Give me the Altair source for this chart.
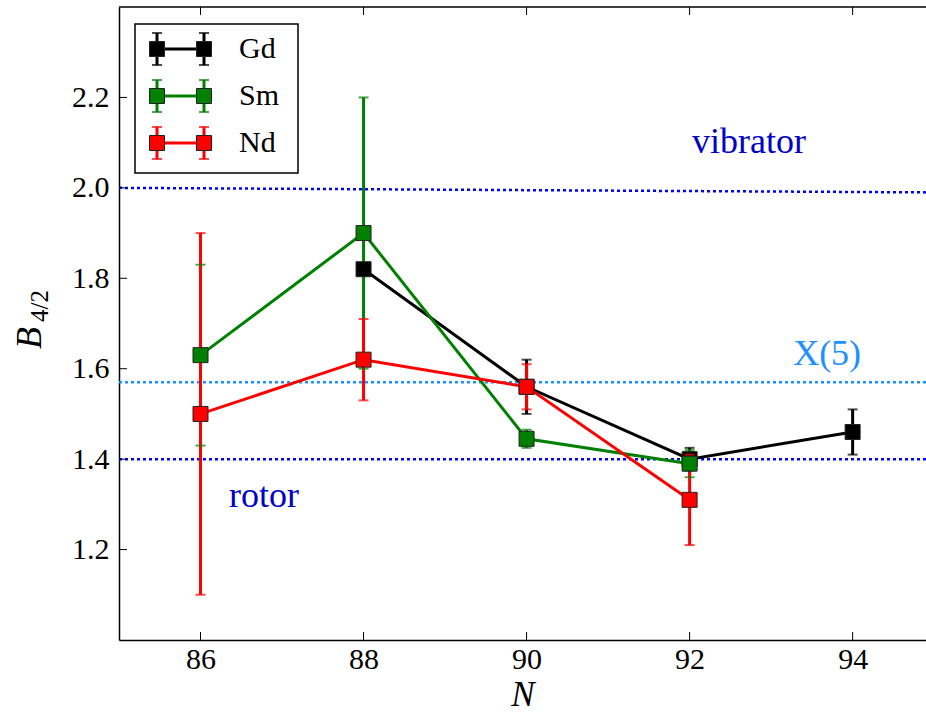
import altair as alt
import pandas as pd

# Neutron number on the x axis
N = [86, 88, 90, 92, 94]

# B(4/2) ratios and their uncertainties for each isotope chain
gd_vals = [None, 1.82, 1.56, 1.40, 1.46]
gd_err = [None, 0.0, 0.06, 0.025, 0.05]
sm_vals = [1.63, 1.90, 1.445, 1.39, None]
sm_err = [0.20, 0.30, 0.02, 0.03, None]
nd_vals = [1.50, 1.62, 1.56, 1.31, None]
nd_err = [0.40, 0.09, 0.05, 0.10, None]

series_names = ["Gd", "Sm", "Nd"]
series_colors = ["#000000", "#008000", "#ff0000"]

# Reference limits: vibrator, X(5) critical point, rotor
ref_names = ["vibrator", "X(5)", "rotor"]
ref_start = [2.00, 1.57, 1.40]
ref_end = [1.99, 1.57, 1.40]
ref_colors = ["#0000ff", "#1e90ff", "#0000ff"]

x_ticks = [86, 88, 90, 92, 94]
y_ticks = [1.2, 1.4, 1.6, 1.8, 2.0, 2.2]

W, H = 807, 633
FONT = "Liberation Serif"

rows = []
for name, vals, errs in [("Gd", gd_vals, gd_err), ("Sm", sm_vals, sm_err), ("Nd", nd_vals, nd_err)]:
    for n, v, e in zip(N, vals, errs):
        if v is not None:
            rows.append({"series": name, "N": n, "B": v, "err": e})
df = pd.DataFrame(rows)

xs = alt.Scale(domain=[85, 94.9], nice=False, zero=False)
ys = alt.Scale(domain=[1.0, 2.4], nice=False, zero=False)
color = alt.Color("series:N", scale=alt.Scale(domain=series_names, range=series_colors), legend=None)
fill = alt.Fill("series:N", scale=alt.Scale(domain=series_names, range=series_colors), legend=None)

base = alt.Chart(df).transform_calculate(lo="datum.B - datum.err", hi="datum.B + datum.err")

# Reference lines, each in its own colour
ref_df = pd.DataFrame({"name": ref_names, "start": ref_start, "end": ref_end})
ref_lines = [
    alt.Chart(ref_df).transform_filter(alt.datum.name == nm).mark_rule(
        strokeDash=[3, 3], strokeWidth=2.5, color=col
    ).encode(x=alt.value(0), x2=alt.value(W), y=alt.Y("start:Q", scale=ys), y2="end:Q")
    for nm, col in zip(ref_names, ref_colors)
]

def note(text, x, y, col):
    return alt.Chart(pd.DataFrame({"t": [text]})).mark_text(
        font=FONT, fontSize=36, align="left", baseline="alphabetic", color=col
    ).encode(x=alt.datum(x, scale=xs), y=alt.datum(y, scale=ys), text="t:N")

notes = [note("vibrator", 92.03, 2.077, "#0000cd"),
         note("X(5)", 93.27, 1.609, "#1e90ff"),
         note("rotor", 86.35, 1.295, "#0000cd")]

# Vertical error bars for all series first, then line/markers/caps per series
err_lines = base.transform_filter("datum.err > 0").mark_rule(strokeWidth=3).encode(
    x=alt.X("N:Q", scale=xs), y=alt.Y("lo:Q", scale=ys), y2="hi:Q", color=color)

series_layers = []
for name in series_names:
    sb = base.transform_filter(alt.datum.series == name)
    line = sb.mark_line(strokeWidth=3).encode(
        x=alt.X("N:Q", scale=xs), y=alt.Y("B:Q", scale=ys), color=color)
    pts = sb.mark_square(size=225, opacity=1, stroke="#222222", strokeWidth=1).encode(
        x=alt.X("N:Q", scale=xs), y=alt.Y("B:Q", scale=ys), fill=fill)
    caps_lo = sb.transform_filter("datum.err > 0").mark_tick(orient="horizontal", size=10, thickness=2).encode(
        x=alt.X("N:Q", scale=xs), y=alt.Y("lo:Q", scale=ys), color=color)
    caps_hi = sb.transform_filter("datum.err > 0").mark_tick(orient="horizontal", size=10, thickness=2).encode(
        x=alt.X("N:Q", scale=xs), y=alt.Y("hi:Q", scale=ys), color=color)
    series_layers += [line, pts, caps_lo, caps_hi]

# Axes: labels from Vega-Lite, inward ticks drawn as rules
axis_x = alt.Chart(pd.DataFrame({"v": x_ticks})).mark_rule(color="black", strokeWidth=1).encode(
    x=alt.X("v:Q", scale=xs, axis=alt.Axis(values=x_ticks, title="N", ticks=False, labelPadding=4,
                                          labelFont=FONT, labelFontSize=30, titleFont=FONT,
                                          titleFontStyle="italic", titleFontSize=35, titleFontWeight="normal",
                                          titlePadding=3, format="d")),
    y=alt.value(H), y2=alt.value(H - 8))
top_ticks = alt.Chart(pd.DataFrame({"v": x_ticks})).mark_rule(color="black", strokeWidth=1).encode(
    x=alt.X("v:Q", scale=xs), y=alt.value(0), y2=alt.value(8))
axis_y = alt.Chart(pd.DataFrame({"v": y_ticks})).mark_rule(color="black", strokeWidth=1).encode(
    y=alt.Y("v:Q", scale=ys, axis=alt.Axis(values=y_ticks, title=None, ticks=False, labelPadding=10,
                                          labelFont=FONT, labelFontSize=30, format=".1f")),
    x=alt.value(0), x2=alt.value(8))
top_border = alt.Chart(pd.DataFrame({"a": [0]})).mark_rule(color="black", strokeWidth=1.5).encode(
    x=alt.value(0), x2=alt.value(W), y=alt.value(0))

# y-axis title B_{4/2}
ylab_b = alt.Chart(pd.DataFrame({"t": ["B"]})).mark_text(
    font=FONT, fontSize=36, fontStyle="italic", angle=270, align="center", baseline="middle", color="black"
).encode(x=alt.value(30 - 119), y=alt.value(338 - 7), text="t:N")
ylab_sub = alt.Chart(pd.DataFrame({"t": ["4/2"]})).mark_text(
    font=FONT, fontSize=25, angle=270, align="center", baseline="middle", color="black"
).encode(x=alt.value(40 - 119), y=alt.value(306 - 7), text="t:N")

# Legend with error-bar glyphs
leg_df = pd.DataFrame({"series": series_names, "row": list(range(len(series_names)))})
leg = alt.Chart(leg_df).transform_calculate(
    ly="42 + 47 * datum.row", lt="datum.ly - 16", lb="datum.ly + 16")
leg_box = alt.Chart(pd.DataFrame({"a": [0]})).mark_rect(fill="white", stroke="black", strokeWidth=1.5).encode(
    x=alt.value(16), x2=alt.value(179), y=alt.value(17), y2=alt.value(166))
leg_layers = [leg_box,
              leg.mark_rule(strokeWidth=3).encode(x=alt.value(38), x2=alt.value(85),
                                                 y=alt.Y("ly:Q", scale=None), color=color)]
for px in (38, 85):
    leg_layers.append(leg.mark_rule(strokeWidth=3).encode(
        x=alt.value(px), y=alt.Y("lt:Q", scale=None), y2="lb:Q", color=color))
    leg_layers.append(leg.mark_square(size=225, opacity=1, stroke="#222222", strokeWidth=1).encode(
        x=alt.value(px), y=alt.Y("ly:Q", scale=None), fill=fill))
    for c in ("lt", "lb"):
        leg_layers.append(leg.mark_tick(orient="horizontal", size=10, thickness=2).encode(
            x=alt.value(px), y=alt.Y(f"{c}:Q", scale=None), color=color))
leg_layers.append(leg.mark_text(font=FONT, fontSize=30, align="left", baseline="middle", color="black").encode(
    x=alt.value(120), y=alt.Y("ly:Q", scale=None), text="series:N"))

chart = alt.layer(
    *ref_lines, axis_x, top_ticks, axis_y, top_border, err_lines, *series_layers, *notes,
    ylab_b, ylab_sub, *leg_layers
).properties(
    width=W, height=H,
    background="white",
    autosize=alt.AutoSizeParams(type="none"),
    padding={"left": 119, "top": 7, "right": 0, "bottom": 74},
).configure_view(stroke=None).configure_axis(
    grid=False, domainColor="black", domainWidth=1.5, labelFont=FONT, labelFontSize=30,
    labelColor="black", titleFont=FONT, titleColor="black",
)

chart.save("out.html", embed_options={"renderer": "svg", "actions": False})
